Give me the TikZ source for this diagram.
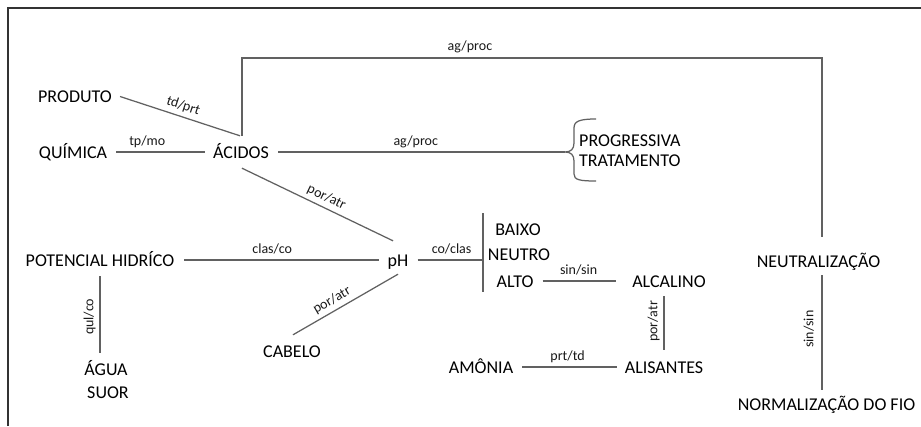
\documentclass[tikz,border=0pt]{standalone}
\usepackage{fontspec}
\setmainfont{Carlito}
\begin{document}
\begin{tikzpicture}[x=1pt,y=-1pt,
  concept/.style={font=\fontsize{18}{21}\selectfont, text=black, inner sep=0pt, text height=12pt, text depth=0pt},
  lbl/.style={font=\fontsize{14}{16}\selectfont, text=black!90, inner sep=0pt, text depth=0pt},
  link/.style={draw=black!62, line width=1.25pt},
  frame/.style={draw=black!80, line width=1.3pt}
]
\useasboundingbox (0,0) rectangle (921,426);
\draw[frame] (8,426) -- (8,8) -- (921,8);

% concepts
\node[concept] (produto) at (75,96.5) {PRODUTO};
\node[concept] (quimica) at (73,152) {QUÍMICA};
\node[concept] (acidos) at (241,152) {ÁCIDOS};
\node[concept, anchor=west] (progressiva) at (579,140) {PROGRESSIVA};
\node[concept, anchor=west] (tratamento) at (579,160) {TRATAMENTO};
\node[concept] (potencial) at (100,260) {POTENCIAL HIDRÍCO};
\node[concept] (ph) at (398,260) {pH};
\node[concept] (agua) at (106,369) {ÁGUA};
\node[concept] (suor) at (108,392) {SUOR};
\node[concept] (cabelo) at (292,351) {CABELO};
\node[concept] (baixo) at (518,229) {BAIXO};
\node[concept] (neutro) at (519,254) {NEUTRO};
\node[concept] (alto) at (515,281) {ALTO};
\node[concept] (alcalino) at (669,281) {ALCALINO};
\node[concept] (alisantes) at (664,367) {ALISANTES};
\node[concept] (amonia) at (481,367) {AMÔNIA};
\node[concept] (neutralizacao) at (818.5,261) {NEUTRALIZAÇÃO};
\node[concept] (normalizacao) at (826.5,404) {NORMALIZAÇÃO DO FIO};

% helper points
\coordinate (brtip) at (565,152);
\coordinate (bartop) at (483,213);
\coordinate (barbot) at (483,292);
\coordinate (barmid) at (483,260);
\coordinate (loopL) at (242,58);
\coordinate (loopR) at (822,58);

% brace and bar
\draw[link] (596,119) .. controls (580,119) and (574,121) .. (574,128) -- (574,143)
  .. controls (574,149) and (571,152) .. (brtip)
  .. controls (571,152) and (574,155) .. (574,161) -- (574,174)
  .. controls (574,180) and (580,181) .. (596,181);
\draw[link] (bartop) -- (barbot);

% connectors
\draw[link] ([shift={(8,0)}]produto.east) -- node[lbl, pos=0.5, sloped, above=6pt] {td/prt} ([shift={(-1,-10)}]acidos.north);
\draw[link] ([shift={(9,0)}]quimica.east) -- node[lbl, pos=0.35, above=6pt] {tp/mo} ([shift={(-8,0)}]acidos.west);
\draw[link] ([shift={(9,0)}]acidos.east) -- node[lbl, pos=0.48, above=6pt] {ag/proc} (brtip);
\draw[link] ([shift={(1,-10)}]acidos.north) -- (loopL) -- node[lbl, pos=0.393, above=7pt] {ag/proc} (loopR) -- ([shift={(3.5,-18)}]neutralizacao.north);
\draw[link] ([shift={(1,10)}]acidos.south) -- node[lbl, pos=0.53, sloped, above=6pt] {por/atr} ([shift={(-5,-13)}]ph.north);
\draw[link] ([shift={(10,0)}]potencial.east) -- node[lbl, pos=0.45, above=6pt] {clas/co} ([shift={(-8,0)}]ph.west);
\draw[link] ([shift={(9,0)}]ph.east) -- node[lbl, pos=0.52, above=6pt] {co/clas} (barmid);
\draw[link] ([shift={(1,-10)}]cabelo.north) -- node[lbl, pos=0.42, sloped, above=6pt] {por/atr} ([shift={(0,8)}]ph.south);
\draw[link] ([shift={(-6,-10)}]agua.north) -- node[lbl, pos=0.47, sloped, above=6pt] {qul/co} ([shift={(0,10)}]potencial.south);
\draw[link] ([shift={(9,0)}]alto.east) -- node[lbl, pos=0.49, above=6pt] {sin/sin} ([shift={(-16,0)}]alcalino.west);
\draw[link] ([shift={(0,-11)}]alisantes.north) -- node[lbl, pos=0.53, sloped, above=6pt] {por/atr} ([shift={(-5,9)}]alcalino.south);
\draw[link] ([shift={(9,0)}]amonia.east) -- node[lbl, pos=0.48, above=6pt] {prt/td} ([shift={(-8,0)}]alisantes.west);
\draw[link] ([shift={(-4.5,-8)}]normalizacao.north) -- node[lbl, pos=0.53, sloped, above=8pt] {sin/sin} ([shift={(3.5,8)}]neutralizacao.south);
\end{tikzpicture}
\end{document}
